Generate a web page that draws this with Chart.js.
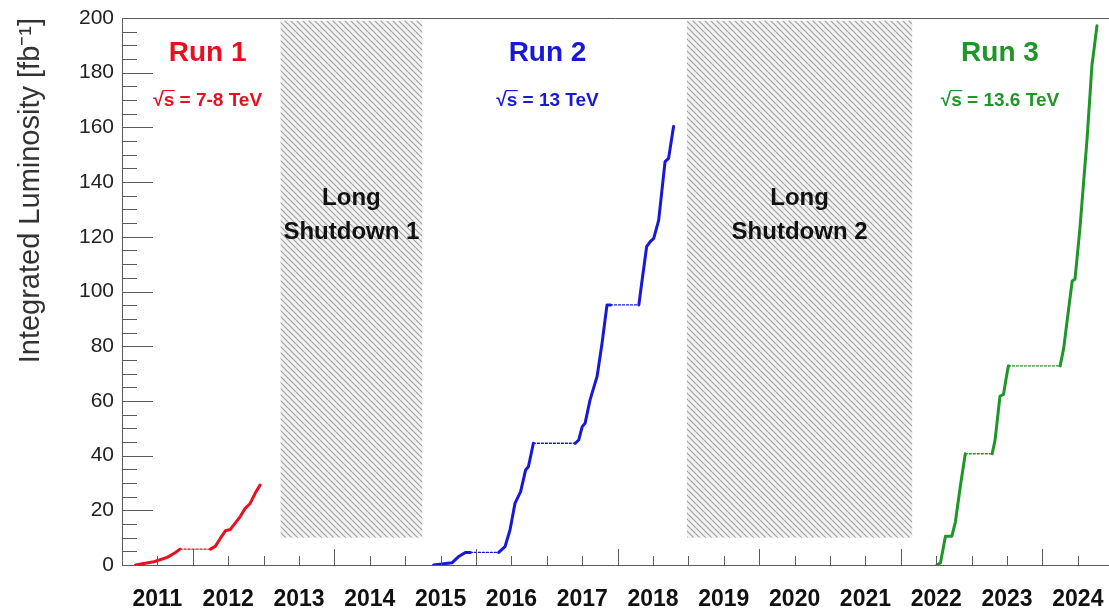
<!DOCTYPE html>
<html><head><meta charset="utf-8">
<script src="https://cdn.jsdelivr.net/npm/chart.js@4.4.1/dist/chart.umd.min.js"></script>
<style>html,body{margin:0;padding:0;background:#fff;overflow:hidden}</style>
</head><body>
<canvas id="c" width="1109" height="611"></canvas>
<script>
// ---- data (decimal year, integrated luminosity fb^-1) ----
const run1Years = [2011.19, 2011.45, 2011.64, 2011.75, 2011.82, 2012.25, 2012.32, 2012.39, 2012.46, 2012.53, 2012.67, 2012.74, 2012.81, 2012.88, 2012.95];
const run1Lumi  = [0, 1.2, 2.8, 4.5, 5.8, 5.8, 6.9, 9.8, 12.5, 13.0, 17.7, 20.7, 22.5, 26.2, 29.2];
const run2Years = [2015.40, 2015.66, 2015.75, 2015.85, 2015.92, 2016.32, 2016.41, 2016.48, 2016.55, 2016.63, 2016.70, 2016.74, 2016.81, 2017.40, 2017.45, 2017.50, 2017.54, 2017.61, 2017.68, 2017.71, 2017.78, 2017.85, 2017.90, 2018.30, 2018.34, 2018.41, 2018.46, 2018.51, 2018.58, 2018.67, 2018.72, 2018.79];
const run2Lumi  = [0, 0.8, 3.0, 4.6, 4.6, 4.6, 6.7, 12.8, 22.5, 26.8, 34.7, 35.9, 44.5, 44.5, 45.7, 50.6, 51.8, 60.3, 66.4, 68.9, 81.1, 95.1, 95.1, 95.1, 103.0, 116.4, 118.2, 119.4, 126.1, 147.5, 148.7, 160.3];
const run3Years = [2022.51, 2022.56, 2022.63, 2022.72, 2022.77, 2022.84, 2022.91, 2023.29, 2023.33, 2023.40, 2023.45, 2023.50, 2023.52, 2024.25, 2024.30, 2024.35, 2024.42, 2024.46, 2024.53, 2024.63, 2024.70, 2024.72, 2024.77];
const run3Lumi  = [0, 0.8, 10.5, 10.5, 15.7, 28.7, 40.7, 40.7, 45.5, 61.7, 62.4, 70.2, 72.8, 72.8, 79.2, 89.6, 103.8, 104.5, 123.3, 155.7, 183.0, 186.8, 197.2];

const runNames    = ['Run 1', 'Run 2', 'Run 3'];
const runEnergies = ['7-8 TeV', '13 TeV', '13.6 TeV'];
const shutdownNames = ['Shutdown 1', 'Shutdown 2'];
const shutdownStart = [2013.24, 2018.98];
const shutdownEnd   = [2015.24, 2022.16];
const shutdownRange = [10, 199];
const yearLabels = [2011,2012,2013,2014,2015,2016,2017,2018,2019,2020,2021,2022,2023,2024];

// ---- styling / layout (not data) ----
const FONT = '"Liberation Sans", Arial, Helvetica, sans-serif';
const runColors = ['rgb(230,16,32)', 'rgb(24,24,215)', 'rgb(32,150,40)'];
const runLabelX = [2012.21, 2017.01, 2023.40];
const runLabelY = [187.2, 170.4];

function pts(xs, ys){ return xs.map((x,i)=>({x, y: ys[i]})); }
const isGap = c => c.p0.parsed.y === c.p1.parsed.y && (c.p1.parsed.x - c.p0.parsed.x) > 0.2;

function makeDataset(xs, ys, color){
  return {
    data: pts(xs, ys), borderColor: color, borderWidth: 3, pointRadius: 0, tension: 0,
    borderJoinStyle: 'round', borderCapStyle: 'round',
    segment: {
      borderDash: c => isGap(c) ? [2, 2] : undefined,
      borderWidth: c => isGap(c) ? 1.4 : 3
    }
  };
}

function makePattern(ctx){
  const s = 6, c = document.createElement('canvas'); c.width = s; c.height = s;
  const g = c.getContext('2d');
  g.fillStyle = '#f3f3f3'; g.fillRect(0,0,s,s);
  g.strokeStyle = '#a2a2a2'; g.lineWidth = 1.2;
  g.beginPath();
  g.moveTo(-1,-1); g.lineTo(s+1,s+1);
  g.moveTo(-1,s-1); g.lineTo(1,s+1);
  g.moveTo(s-1,-1); g.lineTo(s+1,1);
  g.stroke();
  return ctx.createPattern(c, 'repeat');
}

function drawSqrtLabel(ctx, text, cx, cy, size, color){
  ctx.save();
  ctx.font = 'bold ' + size + 'px ' + FONT;
  ctx.fillStyle = color; ctx.strokeStyle = color;
  ctx.textBaseline = 'alphabetic'; ctx.textAlign = 'left';
  const full = '\u221As = ' + text;
  const w = ctx.measureText(full).width;
  const x0 = cx - w/2, base = cy + size*0.36;
  ctx.fillText(full, x0, base);
  const wr = ctx.measureText('\u221A').width, ws = ctx.measureText('\u221As').width;
  ctx.lineWidth = 1.2;
  ctx.beginPath();
  ctx.moveTo(x0 + wr - 1, base - size*0.80);
  ctx.lineTo(x0 + ws + 0.5, base - size*0.80);
  ctx.stroke();
  ctx.restore();
}

const overlay = {
  id: 'overlay',
  beforeDatasetsDraw(chart){
    const {ctx, scales:{x, y}} = chart;
    const pat = makePattern(ctx);
    ctx.save();
    shutdownStart.forEach((s, i) => {
      const x0 = x.getPixelForValue(s), x1 = x.getPixelForValue(shutdownEnd[i]);
      const y0 = y.getPixelForValue(shutdownRange[1]), y1 = y.getPixelForValue(shutdownRange[0]);
      ctx.fillStyle = pat;
      ctx.fillRect(x0, y0, x1 - x0, y1 - y0);
    });
    ctx.restore();
  },
  afterDatasetsDraw(chart){
    const {ctx, scales:{x, y}} = chart;
    ctx.save();
    ctx.textAlign = 'center'; ctx.textBaseline = 'middle';
    runNames.forEach((n, i) => {
      ctx.font = 'bold 28px ' + FONT;
      ctx.fillStyle = runColors[i];
      ctx.fillText(n, x.getPixelForValue(runLabelX[i]), y.getPixelForValue(runLabelY[0]));
      drawSqrtLabel(ctx, runEnergies[i], x.getPixelForValue(runLabelX[i]), y.getPixelForValue(runLabelY[1]), 19, runColors[i]);
    });
    ctx.font = 'bold 24px ' + FONT;
    ctx.fillStyle = '#111';
    ctx.textAlign = 'center'; ctx.textBaseline = 'middle';
    shutdownNames.forEach((n, i) => {
      const cx = x.getPixelForValue((shutdownStart[i] + shutdownEnd[i]) / 2);
      const cy = y.getPixelForValue(128);
      ctx.fillText('Long', cx, cy - 17);
      ctx.fillText(n, cx, cy + 17);
    });
    ctx.restore();
  },
  afterDraw(chart){
    const {ctx, chartArea:a, scales:{x, y}} = chart;
    ctx.save();
    ctx.strokeStyle = '#5a5a5a'; ctx.lineWidth = 1;
    ctx.beginPath();
    ctx.moveTo(a.left + 0.5, a.top + 0.5); ctx.lineTo(a.right, a.top + 0.5);
    ctx.moveTo(a.left + 0.5, a.top); ctx.lineTo(a.left + 0.5, a.bottom + 0.5);
    ctx.moveTo(a.left, a.bottom + 0.5); ctx.lineTo(a.right, a.bottom + 0.5);
    // x ticks (inward)
    for (let k = 1; k <= 27; k++) {
      const v = 2011 + k / 2;
      const px = Math.round(x.getPixelForValue(v)) + 0.5;
      const len = (k % 2 === 0 && (v % 2) === 0) ? 16 : 9;
      ctx.moveTo(px, a.bottom); ctx.lineTo(px, a.bottom - len);
    }
    // y ticks (inward)
    for (let v = 5; v < 200; v += 5) {
      const py = Math.round(y.getPixelForValue(v)) + 0.5;
      const len = (v % 20 === 0) ? 31 : 15;
      ctx.moveTo(a.left, py); ctx.lineTo(a.left + len, py);
    }
    ctx.stroke();
    ctx.restore();
  }
};

new Chart(document.getElementById('c'), {
  type: 'line',
  data: { datasets: [
    makeDataset(run1Years, run1Lumi, runColors[0]),
    makeDataset(run2Years, run2Lumi, runColors[1]),
    makeDataset(run3Years, run3Lumi, runColors[2])
  ]},
  options: {
    responsive: false, animation: false, devicePixelRatio: 1,
    layout: { padding: { top: 18, right: 0, left: 0, bottom: 0 } },
    plugins: { legend: { display: false }, tooltip: { enabled: false } },
    scales: {
      x: {
        type: 'linear', min: 2011, max: 2024.94,
        grid: { display: false, drawTicks: false }, border: { display: false },
        ticks: {
          stepSize: 0.5, autoSkip: false, maxRotation: 0, padding: 21, includeBounds: false,
          color: '#111', font: { family: FONT, size: 23, weight: 'bold' },
          callback: v => { const yr = Math.floor(v + 1e-6); return (Math.abs(v - yr - 0.5) < 1e-3 && yearLabels.includes(yr)) ? String(yr) : ''; }
        },
        afterFit: s => { s.height = 46; s.paddingLeft = 0; s.paddingRight = 0; }
      },
      y: {
        min: 0, max: 200,
        grid: { display: false, drawTicks: false }, border: { display: false },
        ticks: { stepSize: 20, padding: 8, color: '#222', font: { family: FONT, size: 21 } },
        title: { display: true, text: 'Integrated Luminosity [fb\u207B\u00B9]', align: 'end', color: '#333',
                 font: { family: FONT, size: 29 }, padding: { top: 14, bottom: 0 } },
        afterFit: s => { s.width = 122; s.paddingTop = 0; s.paddingBottom = 0; }
      }
    }
  },
  plugins: [overlay]
});
</script>
</body></html>
